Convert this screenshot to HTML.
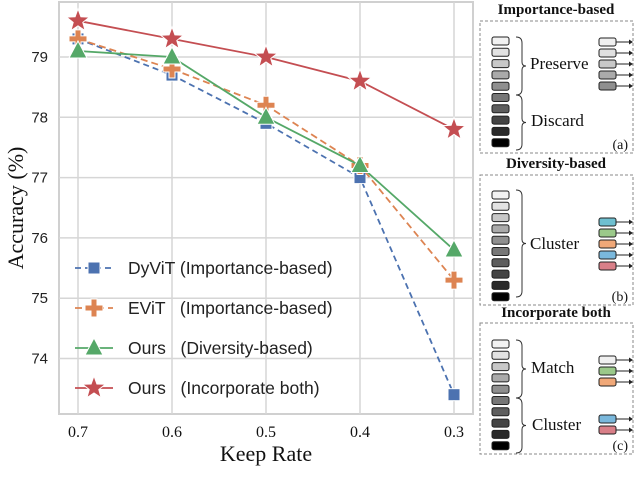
<!DOCTYPE html>
<html><head><meta charset="utf-8">
<style>
html,body{margin:0;padding:0;background:#fff;width:640px;height:498px;overflow:hidden}
svg{display:block}
.tk{font-family:"Liberation Sans",sans-serif;font-size:15px;fill:#222}
.sr{font-family:"Liberation Serif",serif;fill:#111}
.lg{white-space:pre}
</style></head>
<body>
<svg id="chart" width="640" height="498">
<g id="plot"></g>
<g id="diag"></g>
<text class="sr" x="0" y="514" font-size="20">Figure 1:  The Lower Map  ...  comparison of the ...</text>
</svg>
<script>
const categories = ["0.7","0.6","0.5","0.4","0.3"];
const dyvit = [79.3, 78.7, 77.9, 77.0, 73.4];
const evit = [79.3, 78.8, 78.2, 77.2, 75.3];
const oursDiv = [79.1, 79.0, 78.0, 77.2, 75.8];
const oursBoth = [79.6, 79.3, 79.0, 78.6, 77.8];
const yTicks = [74, 75, 76, 77, 78, 79];
const seriesNames = ["DyViT (Importance-based)","EViT   (Importance-based)","Ours   (Diversity-based)","Ours   (Incorporate both)"];

const NS="http://www.w3.org/2000/svg";
function mk(tag, attrs, parent){const e=document.createElementNS(NS,tag);for(const k in attrs)e.setAttribute(k,attrs[k]);parent.appendChild(e);return e;}
const plot=document.getElementById('plot');
const X0=59,X1=473,Y0=2,Y1=414;
function xs(i){return 78+i*94;}
function ys(v){return 57+(79-v)*60.3;}

const bg=mk('rect',{x:X0,y:Y0,width:X1-X0,height:Y1-Y0,fill:'#fff',stroke:'#d0d0d0','stroke-width':2},plot);


yTicks.forEach(t=>{
  const l=mk('line',{x1:X0,x2:X1,y1:ys(t),y2:ys(t),stroke:'#d6d6d6','stroke-width':1.5},plot);
  
  
  const tx=mk('text',{x:48,y:ys(t)+5,'text-anchor':'end',class:'tk'},plot);
  tx.textContent=t;
  
  
});
categories.forEach((c,i)=>{
  const l=mk('line',{x1:xs(i),x2:xs(i),y1:Y0,y2:Y1,stroke:'#d6d6d6','stroke-width':1.5},plot);
  
  
  const tx=mk('text',{x:xs(i),y:437,'text-anchor':'middle',class:'sr','font-size':16},plot);
  tx.textContent=c;
  
  
});
const xt=mk('text',{x:266,y:461,'text-anchor':'middle',class:'sr','font-size':22},plot);
xt.textContent='Keep Rate';


const yt=mk('text',{x:0,y:0,'text-anchor':'middle',class:'sr','font-size':22,transform:'translate(23,208) rotate(-90)'},plot);
yt.textContent='Accuracy (%)';



function marker(type,x,y,color,parent){
  let e;
  if(type==='sq') e=mk('rect',{x:x-6,y:y-6,width:12,height:12,fill:color,stroke:'#fff','stroke-width':1},parent);
  else if(type==='plus') e=mk('path',{d:`M${x-3},${y-9}h6v6h6v6h-6v6h-6v-6h-6v-6h6z`,fill:color,stroke:'#fff','stroke-width':1},parent);
  else if(type==='tri') e=mk('path',{d:`M${x},${y-10}L${x+9},${y+7}L${x-9},${y+7}z`,fill:color,stroke:'#fff','stroke-width':1},parent);
  else {let p='';for(let k=0;k<10;k++){const r=k%2?5:12;const a=-Math.PI/2+k*Math.PI/5;p+=(k?'L':'M')+(x+r*Math.cos(a)).toFixed(1)+','+(y+r*Math.sin(a)).toFixed(1);}e=mk('path',{d:p+'z',fill:color,stroke:'#fff','stroke-width':1},parent);}
  return e;
}
const series=[
  {d:dyvit,c:'#4c72b0',m:'sq',dash:'6,4',n:'dyvit'},
  {d:evit,c:'#dd8452',m:'plus',dash:'7,4',n:'evit'},
  {d:oursDiv,c:'#55a868',m:'tri',dash:'',n:'ours-diversity'},
  {d:oursBoth,c:'#c44e52',m:'star',dash:'',n:'ours-both'}
];
series.forEach(s=>{
  const g=mk('g',{},plot);
  
  
  const pts=s.d.map((v,i)=>xs(i)+','+ys(v)).join(' ');
  const pl=mk('polyline',{points:pts,fill:'none',stroke:s.c,'stroke-width':1.8,'stroke-dasharray':s.dash},g);
  
  
  s.d.forEach((v,i)=>{const m=marker(s.m,xs(i),ys(v),s.c,g);
    
    });
});
series.forEach((s,i)=>{
  const y=268+i*40;
  const g=mk('g',{},plot);
  
  
  mk('line',{x1:75,x2:113,y1:y,y2:y,stroke:s.c,'stroke-width':1.8,'stroke-dasharray':s.dash},g);
  marker(s.m,94,y,s.c,g);
  const t=mk('text',{x:128,y:y+6,'font-family':'"Liberation Sans",sans-serif','font-size':17.5,fill:'#222',class:'lg'},g);
  t.textContent=seriesNames[i];
});

const dg=document.getElementById('diag');
const grays=['#f2f2f2','#e2e2e2','#c8c8c8','#aaaaaa','#8f8f8f','#777','#5e5e5e','#444','#2a2a2a','#000'];
function panel(title,ty,by,bh,bars0,label){
  const t=mk('text',{x:556,y:ty,'text-anchor':'middle',class:'sr','font-size':15,'font-weight':'bold'},dg);
  t.textContent=title;
  
  
  const b=mk('rect',{x:480,y:by,width:153,height:bh,fill:'none',stroke:'#888','stroke-width':1,'stroke-dasharray':'3,2'},dg);
  
  
  grays.forEach((c,i)=>{const r=mk('rect',{x:492,y:bars0+i*11.3,width:17,height:8,rx:2,fill:c,stroke:'#222','stroke-width':1},dg);
    
    });
  const l=mk('text',{x:628,y:by+bh-4,'text-anchor':'end',class:'sr','font-size':14},dg);
  l.textContent=label;
}
function brace(x,y1,y2){
  const m=(y1+y2)/2;
  mk('path',{d:`M${x},${y1} q6,0 6,6 V${m-4} q0,4 4,4 q-4,0 -4,4 V${y2-6} q0,6 -6,6`,fill:'none',stroke:'#333','stroke-width':1},dg);
}
function label(t,x,y){const e=mk('text',{x:x,y:y,class:'sr','font-size':17},dg);e.textContent=t;}
function outs(ys_,cols){ys_.forEach((y,i)=>{mk('rect',{x:599,y:y-4,width:17,height:8,rx:2,fill:cols[i],stroke:'#222','stroke-width':1},dg);
  mk('line',{x1:616,x2:631,y1:y,y2:y,stroke:'#222','stroke-width':1},dg);
  mk('path',{d:`M633,${y} l-4,-2.5 v5z`,fill:'#222'},dg);});}
panel('Importance-based',14,21,132,37,'(a)');
brace(516,37,95);brace(516,95,150);
label('Preserve',530,69);label('Discard',531,126);
outs([42,53,64,75,86],['#f0f0f0','#e0e0e0','#c8c8c8','#aaa','#8f8f8f']);
panel('Diversity-based',168,175,130,191,'(b)');
brace(516,190,297);label('Cluster',530,249);
outs([222,233,244,255,266],['#6fc0d0','#9bc98a','#f0a878','#7ab8dc','#d97f88']);
panel('Incorporate both',317,323,131,340,'(c)');
brace(516,340,398);brace(516,398,453);
label('Match',531,373);label('Cluster',532,430);
outs([360,371,382],['#f0f0f0','#9bc98a','#f0a878']);
outs([419,430],['#7ab8dc','#d97f88']);
</script>
</body></html>
